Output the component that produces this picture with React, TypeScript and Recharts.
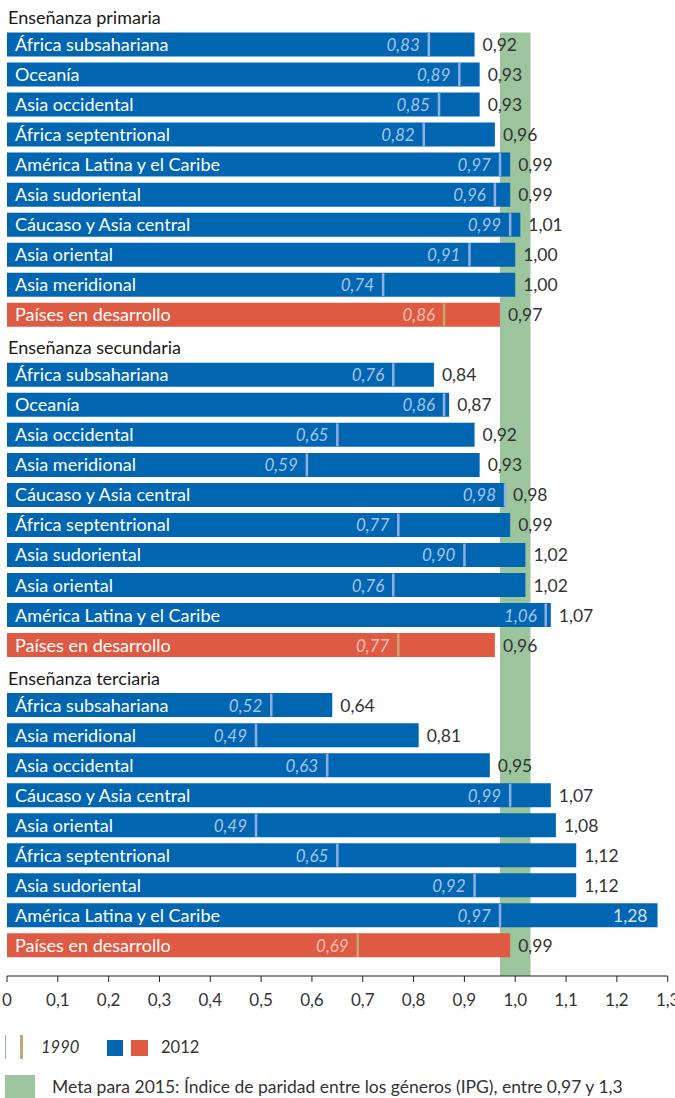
import React from 'react';
import { BarChart, Bar, XAxis, YAxis, ReferenceArea, ReferenceLine, LabelList, Cell } from 'recharts';

// ---------- DATA ----------
const sectionTitles = ['Enseñanza primaria', 'Enseñanza secundaria', 'Enseñanza terciaria'];

const primaryRegions = [
  'África subsahariana', 'Oceanía', 'Asia occidental', 'África septentrional',
  'América Latina y el Caribe', 'Asia sudoriental', 'Cáucaso y Asia central',
  'Asia oriental', 'Asia meridional', 'Países en desarrollo',
];
const primary2012 = [0.92, 0.93, 0.93, 0.96, 0.99, 0.99, 1.01, 1.0, 1.0, 0.97];
const primary1990 = [0.83, 0.89, 0.85, 0.82, 0.97, 0.96, 0.99, 0.91, 0.74, 0.86];

const secondaryRegions = [
  'África subsahariana', 'Oceanía', 'Asia occidental', 'Asia meridional',
  'Cáucaso y Asia central', 'África septentrional', 'Asia sudoriental',
  'Asia oriental', 'América Latina y el Caribe', 'Países en desarrollo',
];
const secondary2012 = [0.84, 0.87, 0.92, 0.93, 0.98, 0.99, 1.02, 1.02, 1.07, 0.96];
const secondary1990 = [0.76, 0.86, 0.65, 0.59, 0.98, 0.77, 0.9, 0.76, 1.06, 0.77];

const tertiaryRegions = [
  'África subsahariana', 'Asia meridional', 'Asia occidental', 'Cáucaso y Asia central',
  'Asia oriental', 'África septentrional', 'Asia sudoriental',
  'América Latina y el Caribe', 'Países en desarrollo',
];
const tertiary2012 = [0.64, 0.81, 0.95, 1.07, 1.08, 1.12, 1.12, 1.28, 0.99];
const tertiary1990 = [0.52, 0.49, 0.63, 0.99, 0.49, 0.65, 0.92, 0.97, 0.69];

const developingName = 'Países en desarrollo';
const xTickValues = [0, 0.1, 0.2, 0.3, 0.4, 0.5, 0.6, 0.7, 0.8, 0.9, 1.0, 1.1, 1.2, 1.3];
const targetRange = [0.97, 1.03];

const legend1990 = '1990';
const legend2012 = '2012';
const legendTarget = 'Meta para 2015: Índice de paridad entre los géneros (IPG), entre 0,97 y 1,3';

// ---------- BUILD ROWS ----------
type Row = {
  row: number;
  kind: 'title' | 'bar';
  label: string;
  v2012: number | null;
  v1990: number | null;
  developing: boolean;
};

const sections = [
  { title: sectionTitles[0], regions: primaryRegions, a: primary2012, b: primary1990 },
  { title: sectionTitles[1], regions: secondaryRegions, a: secondary2012, b: secondary1990 },
  { title: sectionTitles[2], regions: tertiaryRegions, a: tertiary2012, b: tertiary1990 },
];

const rows: Row[] = [];
{
  let r = 0;
  sections.forEach((s) => {
    rows.push({ row: r++, kind: 'title', label: s.title, v2012: null, v1990: null, developing: false });
    s.regions.forEach((name, i) => {
      rows.push({
        row: r++,
        kind: 'bar',
        label: name,
        v2012: s.a[i],
        v1990: s.b[i],
        developing: name === developingName,
      });
    });
  });
}
const titleRows = rows.filter((r) => r.kind === 'title');
const firstBarRow = rows.find((r) => r.kind === 'bar')!.row;
const lastRow = rows[rows.length - 1].row;

// ---------- STYLE ----------
const FONT = 'Lato, "Open Sans", sans-serif';
const BLUE = '#0066B2';
const RED = '#DE5A43';
const GREEN = '#9CC59D';
const MARK_BLUE = '#8DAEE2';
const MARK_TAN = '#C4A66E';
const ITAL_BLUE = '#A6C4EC';
const ITAL_RED = '#F6C1B2';
const INSIDE_VAL = '#D3E2F5';
const TEXT = '#333333';
const CHART_W = 675;

const ROW_PX = 30.03;
const BAR = 24;
const yDomain: [number, number] = [-0.482, lastRow + 1.02];
const fmt2 = (v: number) => v.toFixed(2).replace('.', ',');
const fmtTick = (v: number) => (v === 0 ? '0' : v.toFixed(1).replace('.', ','));

const getBox = (p: any) => {
  const vb = p.viewBox || {};
  return {
    x: Number(p.x ?? vb.x),
    y: Number(p.y ?? vb.y),
    width: Number(p.width ?? vb.width),
    height: Number(p.height ?? vb.height),
  };
};

const NameLabel = (p: any) => {
  const r = rows[p.value];
  if (!r || r.kind !== 'bar') return null;
  const b = getBox(p);
  return (
    <text x={b.x + 8} y={b.y + b.height / 2 + 6.5} fill="#ffffff" fontSize={18} fontFamily={FONT}>
      {r.label}
    </text>
  );
};

const ValueLabel = (p: any) => {
  if (p.value == null) return null;
  const b = getBox(p);
  const end = b.x + b.width;
  const inside = end + 46 > CHART_W;
  return (
    <text
      x={inside ? end - 10 : end + 8}
      y={b.y + b.height / 2 + 6.5}
      textAnchor={inside ? 'end' : 'start'}
      fill={inside ? INSIDE_VAL : TEXT}
      fontSize={17.5}
      fontFamily={FONT}
    >
      {fmt2(p.value)}
    </text>
  );
};

const makeTitleLabel = (text: string) => (p: any) => {
  const vb = p.viewBox || {};
  const x = Number(vb.x ?? 0);
  const y = Number(vb.y ?? 0) + Number(vb.height ?? 0) / 2;
  return (
    <text x={x + 1} y={y + 9.5} fill="#1a1a1a" fontSize={18} fontFamily={FONT}>
      {text}
    </text>
  );
};

const MarkerShape = (p: any) => {
  const r: Row | undefined = p.payload;
  if (!r || r.kind !== 'bar' || r.v1990 == null) return null;
  const xe = p.x + p.width;
  return (
    <g>
      <rect x={xe - 1.25} y={p.y + 0.5} width={2.5} height={p.height - 1} fill={r.developing ? MARK_TAN : MARK_BLUE} />
      <text
        x={xe - 9}
        y={p.y + p.height / 2 + 6.5}
        textAnchor="end"
        fill={r.developing ? ITAL_RED : ITAL_BLUE}
        fontSize={17}
        fontStyle="italic"
        fontFamily={FONT}
      >
        {fmt2(r.v1990)}
      </text>
    </g>
  );
};

export default function App() {
  return (
    <div style={{ position: 'absolute', left: 0, top: 0, width: 675, height: 1098, background: '#fff', fontFamily: FONT, overflow: 'hidden' }}>
      <BarChart
        width={CHART_W}
        height={1020}
        data={rows}
        layout="vertical"
        margin={{ top: 0, right: 7.3, bottom: 0, left: 7 }}
        style={{ fontFamily: FONT }}
      >
        <XAxis
          type="number"
          domain={[0, 1.3]}
          ticks={xTickValues}
          interval={0}
          allowDataOverflow
          tickFormatter={fmtTick}
          tickSize={6}
          tickMargin={12}
          height={44}
          stroke="#222"
          tick={{ fill: TEXT, fontSize: 17, fontFamily: FONT }}
        />
        <XAxis xAxisId="m" type="number" domain={[0, 1.3]} allowDataOverflow hide />
        <YAxis type="number" dataKey="row" domain={yDomain} allowDataOverflow hide />
        <YAxis yAxisId="m" type="number" dataKey="row" domain={yDomain} allowDataOverflow hide />
        <ReferenceArea
          x1={targetRange[0]}
          x2={targetRange[1]}
          y1={firstBarRow - BAR / 2 / ROW_PX}
          y2={yDomain[1]}
          fill={GREEN}
          fillOpacity={1}
          stroke="none"
          ifOverflow="visible"
        />
        {titleRows.map((t) => (
          <ReferenceLine
            key={t.row}
            y={t.row}
            stroke="none"
            strokeOpacity={0}
            ifOverflow="visible"
            label={makeTitleLabel(t.label)}
          />
        ))}
        <Bar dataKey="v2012" barSize={BAR} isAnimationActive={false}>
          {rows.map((r) => (
            <Cell key={r.row} fill={r.developing ? RED : BLUE} />
          ))}
          <LabelList dataKey="row" content={<NameLabel />} />
          <LabelList dataKey="v2012" content={<ValueLabel />} />
        </Bar>
        <Bar
          dataKey="v1990"
          xAxisId="m"
          yAxisId="m"
          barSize={BAR}
          isAnimationActive={false}
          shape={<MarkerShape />}
        />
      </BarChart>

      {/* Legend */}
      <div style={{ position: 'absolute', left: 5, top: 1035, width: 1.2, height: 24, background: MARK_BLUE }} />
      <div style={{ position: 'absolute', left: 20, top: 1035, width: 2.5, height: 24, background: MARK_TAN }} />
      <div style={{ position: 'absolute', left: 41, top: 1036, fontSize: 16.5, fontStyle: 'italic', color: TEXT, lineHeight: '22px' }}>
        {legend1990}
      </div>
      <div style={{ position: 'absolute', left: 107, top: 1040, width: 16, height: 16, background: BLUE }} />
      <div style={{ position: 'absolute', left: 131, top: 1040, width: 17, height: 16, background: RED }} />
      <div style={{ position: 'absolute', left: 161, top: 1036, fontSize: 16.5, color: TEXT, lineHeight: '22px' }}>
        {legend2012}
      </div>
      <div style={{ position: 'absolute', left: 5, top: 1075, width: 30, height: 30, background: GREEN }} />
      <div style={{ position: 'absolute', left: 52, top: 1076, fontSize: 17.5, color: TEXT, lineHeight: '22px', whiteSpace: 'nowrap' }}>
        {legendTarget}
      </div>
    </div>
  );
}
